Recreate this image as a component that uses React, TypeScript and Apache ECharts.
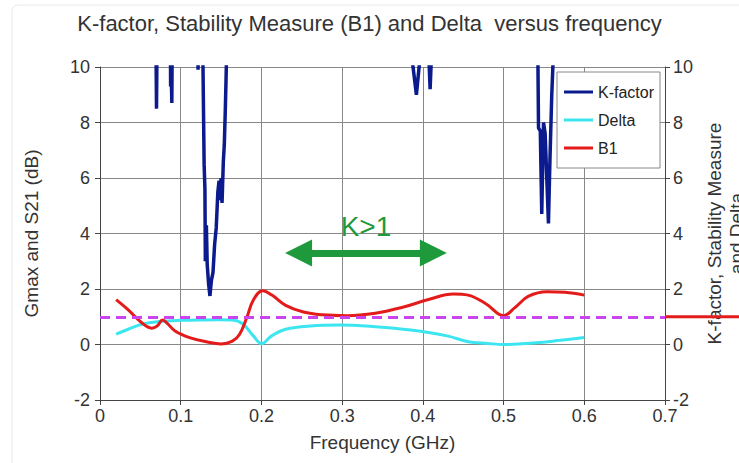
import React, { useEffect, useRef } from 'react';
import * as echarts from 'echarts';

const chartTitle = 'K-factor, Stability Measure (B1) and Delta  versus frequency';
const xAxisName = 'Frequency (GHz)';
const leftAxisName = 'Gmax and S21 (dB)';
const rightAxisName = 'K-factor, Stability Measure\nand Delta';
const seriesNames = ['K-factor', 'Delta', 'B1'];

// K-factor (values above 10 run off the top of the plot)
const kFreq = [0.02, 0.069, 0.0700, 0.0710, 0.0870, 0.0875, 0.0885, 0.0890, 0.0897, 0.1205, 0.1215, 0.1225,
  0.1268, 0.1290, 0.1300, 0.1305, 0.1318, 0.1328, 0.1345, 0.1362, 0.1380, 0.1400, 0.1420, 0.1440, 0.1460,
  0.1475, 0.1490, 0.1500, 0.1512, 0.1528, 0.1540, 0.1552, 0.1562, 0.1580,
  0.3870, 0.3920, 0.3960, 0.4075, 0.4090, 0.4105,
  0.5420, 0.5433, 0.5455, 0.5473, 0.5495, 0.5515, 0.5556, 0.5575, 0.5597, 0.5638, 0.6];
const kVal = [12, 12, 8.5, 12, 12, 9.3, 9.4, 8.7, 12, 12, 9.9, 12,
  12, 6.5, 5.6, 3.0, 4.3, 2.9, 2.2, 1.75, 2.3, 2.6, 3.6, 4.2, 5.5,
  5.9, 5.2, 6.0, 5.1, 6.6, 7.2, 8.4, 9.6, 12,
  10.2, 9.0, 10.2, 10.3, 9.2, 10.3,
  12, 7.8, 7.7, 4.7, 8.0, 7.6, 4.36, 6.7, 9.0, 12, 12];

// Delta
const dFreq = [0.02, 0.035, 0.053, 0.075, 0.10, 0.12, 0.145, 0.164, 0.177, 0.19, 0.2, 0.2126, 0.23, 0.261,
  0.297, 0.341, 0.385, 0.43, 0.456, 0.48, 0.5, 0.54, 0.57, 0.6];
const dVal = [0.37, 0.55, 0.74, 0.83, 0.87, 0.88, 0.89, 0.88, 0.74, 0.31, 0.03, 0.31, 0.55, 0.67,
  0.70, 0.64, 0.52, 0.31, 0.10, 0.04, 0.0, 0.06, 0.15, 0.25];

// B1
const bFreq = [0.02, 0.035, 0.051, 0.064, 0.071, 0.0775, 0.082, 0.093, 0.111, 0.133, 0.15, 0.164, 0.173,
  0.182, 0.19, 0.2015, 0.213, 0.23, 0.252, 0.275, 0.306, 0.341, 0.376, 0.407, 0.438, 0.456, 0.478, 0.5,
  0.514, 0.531, 0.554, 0.576, 0.6];
const bVal = [1.62, 1.25, 0.80, 0.59, 0.67, 0.88, 0.80, 0.49, 0.25, 0.09, 0.02, 0.12, 0.37,
  0.98, 1.6, 1.94, 1.78, 1.41, 1.17, 1.07, 1.04, 1.13, 1.35, 1.62, 1.82, 1.78, 1.47, 1.04,
  1.33, 1.74, 1.90, 1.88, 1.78];

// threshold line at 1 and its red continuation beyond the right axis
const thresholdValue = 1;
const extFreq = [0.7, 0.8];
const extVal = [1, 1];

// K>1 annotation arrow
const arrowLabel = 'K>1';
const arrowFrom = [0.246, 3.3];
const arrowTo = [0.413, 3.3];

const yMin = -2, yMax = 10, yStep = 2;
const xMin = 0, xMax = 0.7, xStep = 0.1;

const zip = (xs: number[], ys: number[]) => xs.map((x, i) => [x, ys[i]]);

const FONT = 'Liberation Sans, Arial, sans-serif';
const GREEN = '#1e9a3c';
const RED = '#e41b1b';

export default function App() {
  const ref = useRef<HTMLDivElement>(null);
  useEffect(() => {
    if (!ref.current) return;
    const chart = echarts.init(ref.current, null, { renderer: 'svg' });
    const axisCommon = {
      type: 'value',
      min: yMin,
      max: yMax,
      interval: yStep,
      nameLocation: 'middle',
      nameRotate: 90,
      nameTextStyle: { fontSize: 19, color: '#333', fontFamily: FONT, lineHeight: 22 },
      axisLine: { show: true, lineStyle: { color: '#444', width: 1 } },
      axisTick: { show: true, length: 5, lineStyle: { color: '#444' } },
      axisLabel: { fontSize: 18, color: '#333', fontFamily: FONT },
    };
    chart.setOption({
      animation: false,
      backgroundColor: '#fff',
      textStyle: { fontFamily: FONT },
      title: {
        text: chartTitle,
        left: 'center',
        top: 7,
        textStyle: { fontSize: 22, fontWeight: 'normal', color: '#333', fontFamily: FONT },
      },
      grid: { left: 100, right: 74, top: 67, bottom: 63, outerBoundsMode: 'none', containLabel: false },
      legend: {
        orient: 'vertical',
        left: 557,
        top: 72,
        padding: [11, 6, 11, 7],
        itemGap: 10,
        itemWidth: 29,
        itemHeight: 3,
        icon: 'rect',
        borderColor: '#888',
        borderWidth: 1,
        backgroundColor: '#fff',
        textStyle: { fontSize: 16, color: '#222', fontFamily: FONT, lineHeight: 18 },
        data: seriesNames,
      },
      xAxis: {
        type: 'value',
        min: xMin,
        max: xMax,
        interval: xStep,
        name: xAxisName,
        nameLocation: 'middle',
        nameGap: 33,
        nameTextStyle: { fontSize: 19, color: '#333', fontFamily: FONT },
        axisLine: { show: true, onZero: false, lineStyle: { color: '#444' } },
        axisTick: { show: true, length: 5, lineStyle: { color: '#444' } },
        axisLabel: { fontSize: 18, color: '#333', margin: 7, fontFamily: FONT },
        splitLine: { show: true, lineStyle: { color: '#888', width: 1 } },
      },
      yAxis: [
        {
          ...axisCommon,
          position: 'left',
          name: leftAxisName,
          nameGap: 58,
          axisLabel: { ...axisCommon.axisLabel, margin: 10 },
          splitLine: { show: true, lineStyle: { color: '#888', width: 1 } },
        },
        {
          ...axisCommon,
          position: 'right',
          name: rightAxisName,
          nameGap: 36,
          axisLabel: { ...axisCommon.axisLabel, margin: 8 },
          splitLine: { show: false },
        },
      ],
      series: [
        {
          name: 'K-factor',
          type: 'line',
          yAxisIndex: 1,
          data: zip(kFreq, kVal),
          symbol: 'none',
          lineStyle: { color: '#0b1a8c', width: 3.5 },
          itemStyle: { color: '#0b1a8c' },
          z: 3,
        },
        {
          name: 'Delta',
          type: 'line',
          yAxisIndex: 1,
          data: zip(dFreq, dVal),
          symbol: 'none',
          smooth: 0.4,
          lineStyle: { color: '#3ce6f0', width: 3 },
          itemStyle: { color: '#3ce6f0' },
          z: 3,
        },
        {
          name: 'B1',
          type: 'line',
          yAxisIndex: 1,
          data: zip(bFreq, bVal),
          symbol: 'none',
          smooth: 0.4,
          lineStyle: { color: RED, width: 3 },
          itemStyle: { color: RED },
          z: 4,
        },
        {
          name: 'threshold',
          type: 'line',
          yAxisIndex: 1,
          data: [],
          markLine: {
            silent: true,
            symbol: 'none',
            label: { show: false },
            lineStyle: { color: '#cc44ee', width: 3, type: [10, 6] },
            data: [{ yAxis: thresholdValue }],
          },
          z: 5,
        },
        {
          name: 'annotation',
          type: 'line',
          yAxisIndex: 1,
          data: [],
          markLine: {
            silent: true,
            symbol: ['triangle', 'triangle'],
            symbolSize: 27,
            lineStyle: { color: GREEN, width: 7, type: 'solid' },
            itemStyle: { color: GREEN },
            label: {
              show: true,
              position: 'middle',
              formatter: arrowLabel,
              color: GREEN,
              fontSize: 28,
              distance: 12,
              fontFamily: FONT,
            },
            data: [[{ coord: arrowFrom }, { coord: arrowTo }]],
          },
          z: 5,
        },
      ],
    });
    // red continuation of the threshold line beyond the right axis, placed through the chart's own scales
    const finder = { xAxisIndex: 0, yAxisIndex: 1 };
    const p0 = chart.convertToPixel(finder, [extFreq[0], extVal[0]]) as number[];
    const p1 = chart.convertToPixel(finder, [extFreq[1], extVal[1]]) as number[];
    chart.setOption({
      graphic: [
        { type: 'rect', shape: { x: 12, y: 5, width: 760, height: 480, r: 6 }, style: { fill: 'none', stroke: '#e8e8e8', lineWidth: 1 }, silent: true, z: -1 },
        { type: 'line', shape: { x1: p0[0], y1: p0[1], x2: p1[0], y2: p1[1] }, style: { stroke: RED, lineWidth: 3 }, silent: true, z: 10 },
      ],
    });
    return () => chart.dispose();
  }, []);
  return <div ref={ref} style={{ position: 'fixed', left: 0, top: 0, width: 739, height: 463 }} />;
}
